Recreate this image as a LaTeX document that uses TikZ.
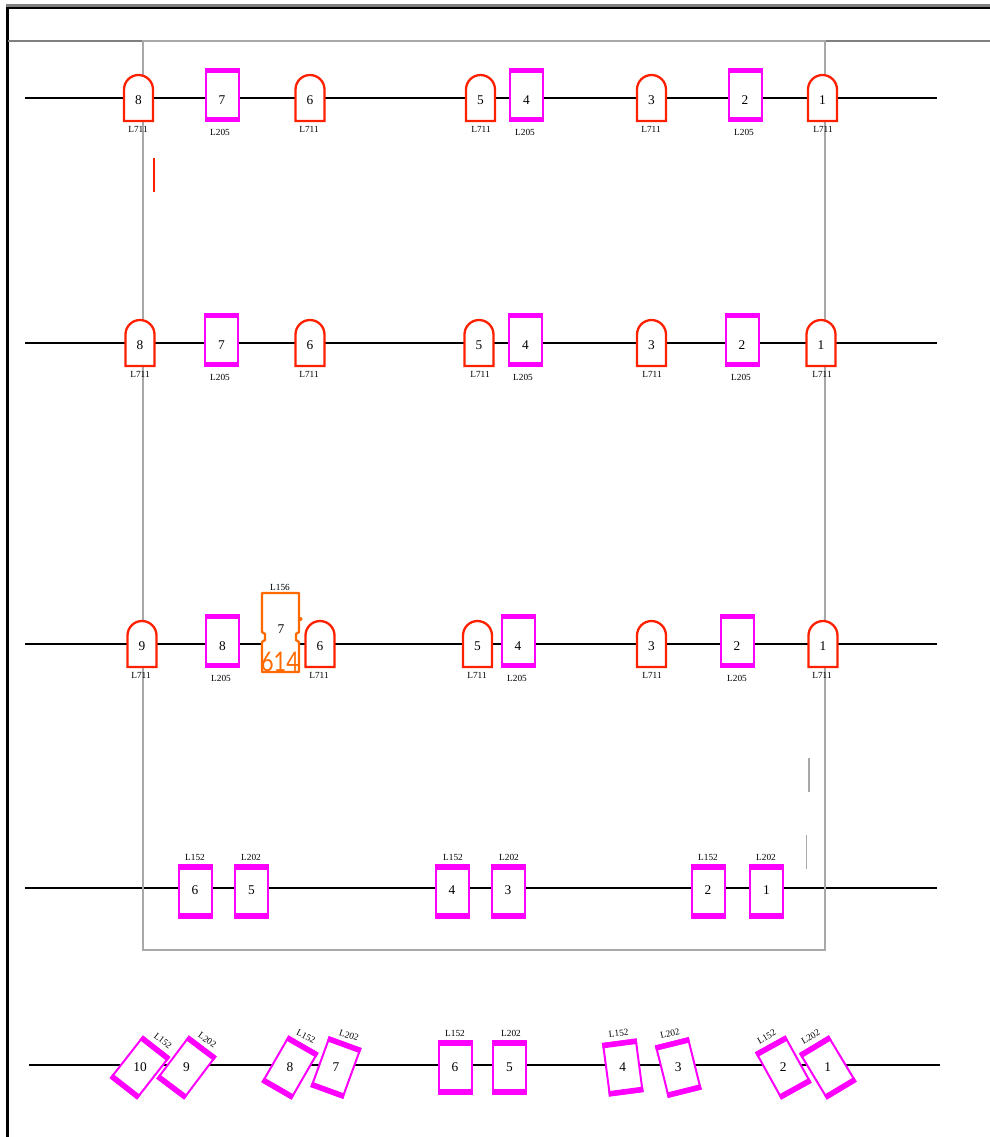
\documentclass[tikz,border=0pt]{standalone}
\usepackage{fontspec}
\usepackage{tikz}
\usepackage{xcolor}
\usetikzlibrary{backgrounds,calc}

\setmainfont{Liberation Serif}
\newfontfamily\stampfont{Lato}
\newcommand{\px}{0.02cm}

\definecolor{gatered}{HTML}{FF2000}
\definecolor{platemag}{HTML}{FF00FF}
\definecolor{crossor}{HTML}{FF6A00}
\definecolor{framegray}{HTML}{A8A8A8}
\definecolor{rulegray}{HTML}{808080}

\tikzset{
    rail/.style={black, line width=2*\px},
    arch/.style={gatered, fill=white, line width=2.3*\px},
    plate/.style={draw=platemag, fill=white, line width=2*\px, inner sep=0pt,
        minimum width=33*\px, minimum height=52*\px},
    platebar/.style={platemag, line width=5.5*\px},
    num/.style={inner sep=0pt, text height=12.5*\px, text depth=0pt,
        font=\fontsize{7.6}{9}\selectfont},
    tag/.style={inner sep=0pt, font=\fontsize{5.3}{6}\selectfont},
}

% name, x, y of the rail, number
\newcommand{\archgate}[4]{
    \draw[arch] (#2-14.5,#3+23) -- (#2-14.5,#3-8.5)
        arc[start angle=180, end angle=0, x radius=14.5, y radius=-14.5]
        -- (#2+14.5,#3+23) -- cycle;
    \node[num] (#1) at (#2,#3) {#4};
}

% name, x, y of the plate, angle, y of the rail, number
\newcommand{\platebox}[6]{
    \node[plate, rotate=#4] (#1p) at (#2,#3) {};
    \draw[platebar] ($(#1p.north west)!0.05!(#1p.south west)$) -- ($(#1p.north east)!0.05!(#1p.south east)$);
    \draw[platebar] ($(#1p.south west)!0.05!(#1p.north west)$) -- ($(#1p.south east)!0.05!(#1p.north east)$);
    \node[num] (#1) at (#2,#5) {#6};
}

\begin{document}
\begin{tikzpicture}[x=0.02cm, y=-0.02cm]

    \useasboundingbox (0,0) rectangle (990,1137);

    % sheet border
    \draw[rulegray, line width=3*\px] (6,5.5) -- (990,5.5);
    \draw[black, line width=2*\px] (6,8) -- (990,8);
    \draw[black, line width=3*\px] (7,7) -- (7,1137);
    \draw[rulegray, line width=2*\px] (8,41) -- (990,41);

    % big frame and the short stubs
    \draw[framegray, line width=2*\px] (143,41) rectangle (825,950);
    \draw[gatered, line width=1.5*\px] (154,158) -- (154,192);
    \draw[framegray, line width=1.8*\px] (809,758) -- (809,792);
    \draw[framegray, line width=1.8*\px] (806.5,835) -- (806.5,869);

    % first row
    \foreach \name/\x/\n in {a8/138.5/8, a6/310/6, a5/480.5/5, a3/651.5/3, a1/822.5/1}
        \archgate{\name}{\x}{98}{\n};
    \foreach \name/\x/\n in {a7/222/7, a4/526.5/4, a2/745/2}
        \platebox{\name}{\x}{95}{0}{98}{\n};
    \foreach \x in {138,309,481,651,823}
        \node[tag] (at\x) at (\x,129) {L711};
    \foreach \x in {220,525,744}
        \node[tag] (at\x) at (\x,132) {L205};

    % second row
    \foreach \name/\x/\n in {b8/140/8, b6/310/6, b5/479/5, b3/651.5/3, b1/821/1}
        \archgate{\name}{\x}{343}{\n};
    \foreach \name/\x/\n in {b7/221.5/7, b4/525.5/4, b2/742/2}
        \platebox{\name}{\x}{340}{0}{343}{\n};
    \foreach \x in {140,309,480,652,822}
        \node[tag] (bt\x) at (\x,374) {L711};
    \foreach \x in {220,523,741}
        \node[tag] (bt\x) at (\x,377) {L205};

    % third row
    \foreach \name/\x/\n in {c9/142/9, c6/320/6, c5/477.5/5, c3/651.5/3, c1/823/1}
        \archgate{\name}{\x}{644}{\n};
    \foreach \name/\x/\n in {c8/222.5/8, c4/518/4, c2/737/2}
        \platebox{\name}{\x}{641}{0}{644}{\n};
    \foreach \x in {141,319,477,652,822}
        \node[tag] (ct\x) at (\x,675) {L711};
    \foreach \x in {221,517,737}
        \node[tag] (ct\x) at (\x,678) {L205};

    % the orange one in the third row
    \draw[crossor, fill=white, line width=2.3*\px, line join=round]
        (262,593) -- (299,593) -- (299,632) -- (296,634) -- (296,640) -- (299,642)
        -- (299,672) -- (262,672) -- (262,642) -- (265,640) -- (265,634) -- (262,632) -- cycle;
    \fill[crossor] (300.5,619) circle[radius=2];
    \node[num] (c7) at (281,627) {7};
    \node[inner sep=0pt, crossor, xscale=0.8, font=\stampfont\fontsize{15.4}{16}\selectfont] (c7s) at (280,662) {614};
    \node[tag] (ct7) at (280,587) {L156};

    % fourth row
    \foreach \name/\x/\n in {d6/195/6, d5/251.5/5, d4/452/4, d3/508/3, d2/708/2, d1/766.5/1}
        \platebox{\name}{\x}{891.5}{0}{888}{\n};
    \foreach \x/\t in {195/L152, 251/L202, 453/L152, 509/L202, 708/L152, 766/L202}
        \node[tag] (dt\x) at (\x,857) {\t};

    % last row, turned plates
    \foreach \name/\x/\a/\n in {e10/140/-38/10, e9/186.5/-37/9, e8/290/-30/8, e7/336/-20/7,
        e6/455/0/6, e5/509.5/0/5, e4/622.8/7.5/4, e3/678.3/14/3, e2/783.3/29/2, e1/827.8/31/1}
        \platebox{\name}{\x}{1067.5}{\a}{1065}{\n};
    \foreach \name/\x/\y/\a/\t in {et10/163/1041/-38/L152, et9/207.3/1040/-35/L202,
        et8/306/1036.7/-27/L152, et7/349/1035.3/-17/L202,
        et6/455/1033/0/L152, et5/511/1033/0/L202,
        et4/618.7/1033.3/6/L152, et3/670/1033.3/13/L202,
        et2/766.7/1036.7/30/L152, et1/810.7/1036.7/30/L202}
        \node[tag, rotate=\a] (\name) at (\x,\y) {\t};

    % rails go behind everything
    \begin{pgfonlayer}{background}
        \coordinate (as) at (25,98);
        \coordinate (ae) at (937,98);
        \draw[rail] (as) -- (a8) -- (a7) -- (a6) -- (a5) -- (a4) -- (a3) -- (a2) -- (a1) -- (ae);
        \coordinate (bs) at (25,343);
        \coordinate (be) at (937,343);
        \draw[rail] (bs) -- (b8) -- (b7) -- (b6) -- (b5) -- (b4) -- (b3) -- (b2) -- (b1) -- (be);
        \coordinate (cs) at (25,644);
        \coordinate (ce) at (937,644);
        \draw[rail] (cs) -- (c9) -- (c8) -- (c7 |- cs) -- (c6) -- (c5) -- (c4) -- (c3) -- (c2) -- (c1) -- (ce);
        \coordinate (ds) at (25,888);
        \coordinate (de) at (937,888);
        \draw[rail] (ds) -- (d6) -- (d5) -- (d4) -- (d3) -- (d2) -- (d1) -- (de);
        \coordinate (es) at (29,1065);
        \coordinate (ee) at (940,1065);
        \draw[rail] (es) -- (e10) -- (e9) -- (e8) -- (e7) -- (e6) -- (e5) -- (e4) -- (e3) -- (e2) -- (e1) -- (ee);
    \end{pgfonlayer}

\end{tikzpicture}
\end{document}
